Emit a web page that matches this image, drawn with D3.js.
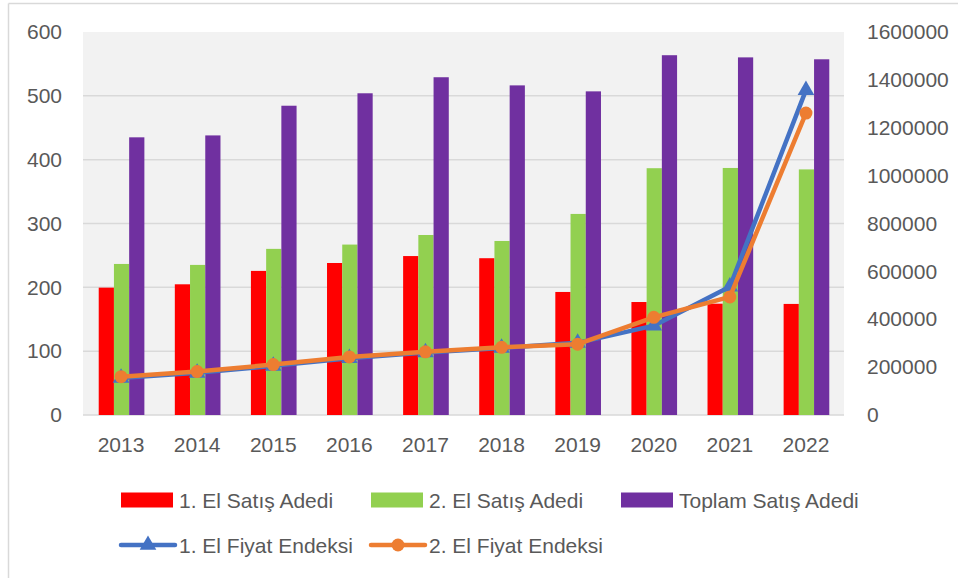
<!DOCTYPE html>
<html>
<head>
<meta charset="utf-8">
<script src="https://cdn.jsdelivr.net/npm/d3@7"></script>
<style>
  body { margin: 0; background: #fff; }
  svg text { font-family: "Liberation Sans", Arial, sans-serif; font-size: 21px; fill: #595959; }
</style>
</head>
<body>
<svg id="chart" width="958" height="578"></svg>
<script>
// categories
const years = ["2013", "2014", "2015", "2016", "2017", "2018", "2019", "2020", "2021", "2022"];

// bar series (right axis)
const firstHandSales  = [532000, 546000, 602000, 635000, 664000, 655000, 514000, 472000, 465000, 464000];
const secondHandSales = [631000, 627000, 694000, 712000, 752000, 727000, 840000, 1031000, 1032000, 1026000];
const totalSales      = [1160000, 1168000, 1292000, 1344000, 1411000, 1377000, 1352000, 1503000, 1494000, 1486000];

// line series (left axis)
const firstHandIndex  = [58, 66, 77, 89, 98, 105, 113, 140, 201, 509];
const secondHandIndex = [60, 68, 79, 91, 99, 106, 111, 153, 185, 473];

// ticks
const leftTicks = [0, 100, 200, 300, 400, 500, 600];
const rightTicks = [0, 200000, 400000, 600000, 800000, 1000000, 1200000, 1400000, 1600000];

const barSeries = [
    { name: "1. El Satış Adedi", values: firstHandSales, color: "#ff0000" },
    { name: "2. El Satış Adedi", values: secondHandSales, color: "#92d050" },
    { name: "Toplam Satış Adedi", values: totalSales, color: "#7030a0" }
];
const lineSeries = [
    { name: "1. El Fiyat Endeksi", values: firstHandIndex, color: "#4472c4", marker: "triangle" },
    { name: "2. El Fiyat Endeksi", values: secondHandIndex, color: "#ed7d31", marker: "circle" }
];

const plot = { left: 83, right: 844, top: 32, bottom: 415 };
const gridColor = "#d9d9d9";

const svg = d3.select("#chart");

// outer chart frame (left + top edges visible)
svg.append("line").attr("x1", 8.5).attr("y1", 3.5).attr("x2", 958).attr("y2", 3.5)
    .attr("stroke", gridColor).attr("stroke-width", 1.5);
svg.append("line").attr("x1", 8.5).attr("y1", 3.5).attr("x2", 8.5).attr("y2", 578)
    .attr("stroke", gridColor).attr("stroke-width", 1.5);

// scales
const x = d3.scaleBand().domain(years).range([plot.left, plot.right]);
const xSub = d3.scaleBand().domain(barSeries.map(d => d.name))
    .range([x.bandwidth() * 0.2, x.bandwidth() * 0.8]);
const yLeft = d3.scaleLinear().domain([0, 600]).range([plot.bottom, plot.top]);
const yRight = d3.scaleLinear().domain([0, 1600000]).range([plot.bottom, plot.top]);

// plot area background
svg.append("rect")
    .attr("x", plot.left).attr("y", plot.top)
    .attr("width", plot.right - plot.left).attr("height", plot.bottom - plot.top)
    .attr("fill", "#f2f2f2");

// gridlines
svg.append("g")
    .selectAll("line")
    .data(leftTicks)
    .enter()
    .append("line")
    .attr("x1", plot.left).attr("x2", plot.right)
    .attr("y1", d => yLeft(d)).attr("y2", d => yLeft(d))
    .attr("stroke", gridColor)
    .attr("stroke-width", d => d === 600 ? 0 : 1.5);

// left axis
const leftAxis = svg.append("g")
    .attr("transform", `translate(${ plot.left },0)`)
    .call(d3.axisLeft(yLeft).tickValues(leftTicks).tickSize(0).tickPadding(21));
leftAxis.select(".domain").remove();
leftAxis.selectAll("text").attr("fill", null).attr("font-size", null).attr("font-family", null);

// right axis
const rightAxis = svg.append("g")
    .attr("transform", `translate(${ plot.right },0)`)
    .call(d3.axisRight(yRight).tickValues(rightTicks).tickFormat(d3.format("d")).tickSize(0).tickPadding(23));
rightAxis.select(".domain").remove();
rightAxis.selectAll("text").attr("fill", null).attr("font-size", null).attr("font-family", null);

// bottom axis
const bottomAxis = svg.append("g")
    .attr("transform", `translate(0,${ plot.bottom })`)
    .call(d3.axisBottom(x).tickSize(0).tickPadding(22));
bottomAxis.select(".domain").remove();
bottomAxis.selectAll("text").attr("fill", null).attr("font-size", null).attr("font-family", null);

// bars
const groups = svg.append("g")
    .selectAll("g")
    .data(years)
    .enter()
    .append("g")
    .attr("transform", d => `translate(${ x(d) },0)`);

groups.selectAll("rect")
    .data((year, i) => barSeries.map(s => ({ name: s.name, value: s.values[i], color: s.color })))
    .enter()
    .append("rect")
    .attr("x", d => xSub(d.name) + 0.5)
    .attr("width", xSub.bandwidth())
    .attr("y", d => yRight(d.value))
    .attr("height", d => plot.bottom - yRight(d.value))
    .attr("fill", d => d.color);

// lines + markers
const cx = year => x(year) + x.bandwidth() / 2;
const triangle = d3.symbol().type(d3.symbolTriangle).size(120);

lineSeries.forEach(s => {
    const points = years.map((year, i) => ({ year, value: s.values[i] }));
    svg.append("path")
        .datum(points)
        .attr("fill", "none")
        .attr("stroke", s.color)
        .attr("stroke-width", 4.5)
        .attr("stroke-linejoin", "round")
        .attr("stroke-linecap", "round")
        .attr("d", d3.line().x(d => cx(d.year)).y(d => yLeft(d.value)));

    const markers = svg.append("g").selectAll("path")
        .data(points)
        .enter();
    if (s.marker === "circle") {
        markers.append("circle")
            .attr("cx", d => cx(d.year))
            .attr("cy", d => yLeft(d.value))
            .attr("r", 6.5)
            .attr("fill", s.color);
    } else {
        markers.append("path")
            .attr("d", triangle)
            .attr("transform", d => `translate(${ cx(d.year) },${ yLeft(d.value) })`)
            .attr("fill", s.color);
    }
});

// legend (grid of 3 columns)
const legendCols = [121, 371, 621];
const legend = svg.append("g");

barSeries.forEach((s, i) => {
    const g = legend.append("g").attr("transform", `translate(${ legendCols[i] },500)`);
    g.append("rect").attr("x", 0).attr("y", -7.5).attr("width", 52).attr("height", 15).attr("fill", s.color);
    g.append("text").attr("x", 58).attr("y", 7.5).text(s.name);
});

lineSeries.forEach((s, i) => {
    const g = legend.append("g").attr("transform", `translate(${ legendCols[i] },545)`);
    g.append("line").attr("x1", 0).attr("x2", 54).attr("y1", 0).attr("y2", 0)
        .attr("stroke", s.color).attr("stroke-width", 4.5).attr("stroke-linecap", "round");
    if (s.marker === "circle") {
        g.append("circle").attr("cx", 27).attr("cy", 0).attr("r", 6.5).attr("fill", s.color);
    } else {
        g.append("path").attr("d", triangle).attr("transform", "translate(27,0)").attr("fill", s.color);
    }
    g.append("text").attr("x", 58).attr("y", 7.5).text(s.name);
});
</script>
</body>
</html>
